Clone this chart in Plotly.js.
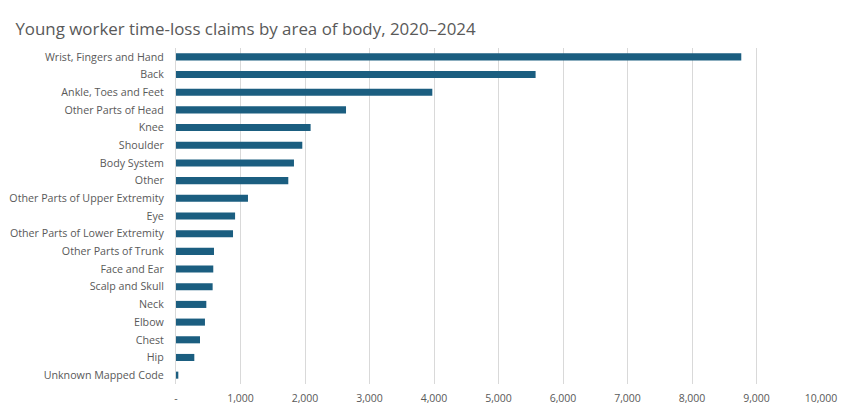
<!DOCTYPE html>
<html>
<head>
<meta charset="utf-8">
<script src="https://cdn.plot.ly/plotly-3.0.1.min.js"></script>
<style>html,body{margin:0;padding:0;background:#fff}#chart{width:856px;height:415px}</style>
</head>
<body>
<div id="chart"></div>
<script>
const categories = [
  "Wrist, Fingers and Hand","Back","Ankle, Toes and Feet","Other Parts of Head","Knee",
  "Shoulder","Body System","Other","Other Parts of Upper Extremity","Eye",
  "Other Parts of Lower Extremity","Other Parts of Trunk","Face and Ear","Scalp and Skull",
  "Neck","Elbow","Chest","Hip","Unknown Mapped Code"
];
const claims = [8764, 5575, 3974, 2636, 2087, 1958, 1829, 1741, 1116, 916, 884, 589, 578, 568, 470, 449, 372, 284, 36];
const tickValues = [0,1000,2000,3000,4000,5000,6000,7000,8000,9000,10000];
const tickLabels = ["-","1,000","2,000","3,000","4,000","5,000","6,000","7,000","8,000","9,000","10,000"];

const font = "Open Sans, Lato, sans-serif";
Plotly.newPlot("chart", [{
  type: "bar",
  orientation: "h",
  y: categories,
  x: claims,
  marker: {color: "#1b5e80"},
  hoverinfo: "x+y"
}], {
  width: 856, height: 415,
  margin: {l: 176, r: 35, t: 48, b: 31},
  paper_bgcolor: "#fff", plot_bgcolor: "#fff",
  bargap: 0.6,
  title: {text: "Young worker time-loss claims by area of body, 2020–2024",
          x: 0.018, xanchor: "left", y: 0.93, yanchor: "middle",
          font: {family: font, size: 16.9, color: "#595959"}},
  xaxis: {range: [0, 10000], tickvals: tickValues, ticktext: tickLabels,
          showgrid: true, gridcolor: "#d9d9d9", gridwidth: 1, zeroline: false,
          showline: false, ticks: "", ticklabelstandoff: 6,
          tickfont: {family: font, size: 10.5, color: "#595959"}, fixedrange: true},
  yaxis: {categoryorder: "array", categoryarray: categories, autorange: "reversed",
          showline: true, linecolor: "#d9d9d9", linewidth: 1, showgrid: false,
          ticks: "", ticklabelstandoff: 9,
          tickfont: {family: font, size: 10.7, color: "#595959"}, fixedrange: true},
  showlegend: false
}, {displayModeBar: false, staticPlot: true});
</script>
</body>
</html>
